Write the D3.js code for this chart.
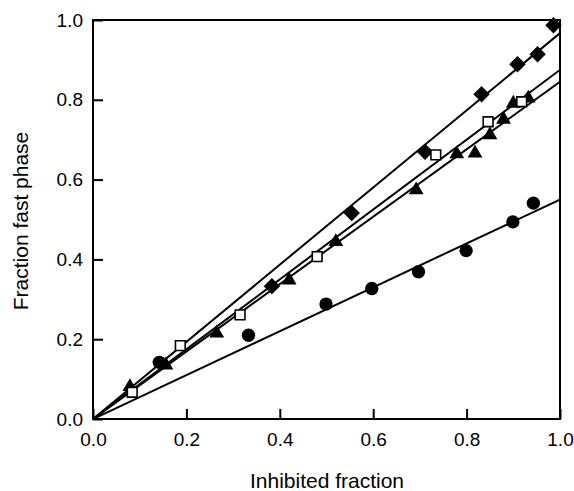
<!DOCTYPE html>
<html>
<head>
<meta charset="utf-8">
<script src="https://cdn.jsdelivr.net/npm/d3@7"></script>
<style>
  body { margin: 0; background: #fff; }
  text { font-family: "Liberation Sans", Arial, sans-serif; fill: #000; }
</style>
</head>
<body>
<div id="chart"></div>
<script>
// data: [inhibited fraction, fraction fast phase]
var diamonds = [[0.383, 0.333], [0.554, 0.516], [0.711, 0.670], [0.832, 0.814],
  [0.909, 0.889], [0.952, 0.914], [0.986, 0.987]];
var squares = [[0.084, 0.067], [0.187, 0.184], [0.315, 0.261], [0.48, 0.407],
  [0.734, 0.662], [0.846, 0.745], [0.918, 0.795]];
var triangles = [[0.079, 0.081], [0.156, 0.135], [0.265, 0.215], [0.42, 0.348],
  [0.52, 0.444], [0.692, 0.574], [0.779, 0.664], [0.818, 0.666], [0.85, 0.712],
  [0.879, 0.751], [0.90, 0.791], [0.932, 0.804]];
var circles = [[0.142, 0.142], [0.333, 0.21], [0.499, 0.288], [0.597, 0.327],
  [0.697, 0.369], [0.799, 0.422], [0.899, 0.494], [0.943, 0.541]];
// fitted slopes of the lines through the origin
var slopes = { diamond: 0.967, square: 0.875, triangle: 0.845, circle: 0.55 };
var tickValues = [0, 0.2, 0.4, 0.6, 0.8, 1.0];

var margin = { top: 20, right: 14, bottom: 72, left: 93 };
var width = 574 - margin.left - margin.right;
var height = 491 - margin.top - margin.bottom;

var svg = d3.select('#chart').append('svg')
  .attr('width', 574)
  .attr('height', 491);

var g = svg.append('g')
  .attr('transform', `translate(${margin.left}, ${margin.top})`);

var x = d3.scaleLinear().domain([0, 1]).range([0, width]);
var y = d3.scaleLinear().domain([0, 1]).range([height, 0]);

g.append('clipPath').attr('id', 'clip')
  .append('rect').attr('width', width).attr('height', height);

// fitted lines
var lines = g.append('g').attr('clip-path', 'url(#clip)');
Object.keys(slopes).forEach(function(k) {
  lines.append('line')
    .attr('x1', x(0)).attr('y1', y(0))
    .attr('x2', x(1.05)).attr('y2', y(1.05 * slopes[k]))
    .attr('stroke', '#000')
    .attr('stroke-width', 2);
});

// axes, ticks pointing inward
var xAxis = d3.axisBottom(x).tickValues(tickValues).tickFormat(d3.format('.1f'))
  .tickSizeInner(-10).tickSizeOuter(0).tickPadding(14);
var yAxis = d3.axisLeft(y).tickValues(tickValues).tickFormat(d3.format('.1f'))
  .tickSizeInner(-10).tickSizeOuter(0).tickPadding(10);

g.append('g')
  .attr('transform', `translate(0, ${height})`)
  .call(xAxis)
  .call(a => a.select('.domain').remove())
  .call(a => a.selectAll('line').attr('stroke-width', 2))
  .call(a => a.selectAll('text').attr('font-size', 19).attr('font-family', null));

g.append('g')
  .call(yAxis)
  .call(a => a.select('.domain').remove())
  .call(a => a.selectAll('line').attr('stroke-width', 2))
  .call(a => a.selectAll('text').attr('font-size', 19).attr('font-family', null));

// frame
g.append('rect')
  .attr('width', width).attr('height', height)
  .attr('fill', 'none').attr('stroke', '#000').attr('stroke-width', 2);

// markers
function plot(data, type, size, fill, rotate) {
  g.append('g').selectAll('path')
    .data(data)
    .enter()
      .append('path')
      .attr('d', d3.symbol().type(type).size(size))
      .attr('transform', d => `translate(${x(d[0])}, ${y(d[1])}) rotate(${rotate})`)
      .attr('fill', fill)
      .attr('stroke', '#000')
      .attr('stroke-width', fill === '#fff' ? 1.6 : 0);
}

plot(circles, d3.symbolCircle, 140, '#000', 0);
plot(diamonds, d3.symbolSquare, 135, '#000', 45);
plot(triangles, d3.symbolTriangle, 95, '#000', 0);
plot(squares, d3.symbolSquare, 95, '#fff', 0);

// axis titles
svg.append('text')
  .attr('x', 327)
  .attr('y', 488)
  .attr('text-anchor', 'middle')
  .attr('font-size', 21)
  .text('Inhibited fraction');

svg.append('text')
  .attr('transform', 'translate(28, 221) rotate(-90)')
  .attr('text-anchor', 'middle')
  .attr('font-size', 21)
  .text('Fraction fast phase');
</script>
</body>
</html>
